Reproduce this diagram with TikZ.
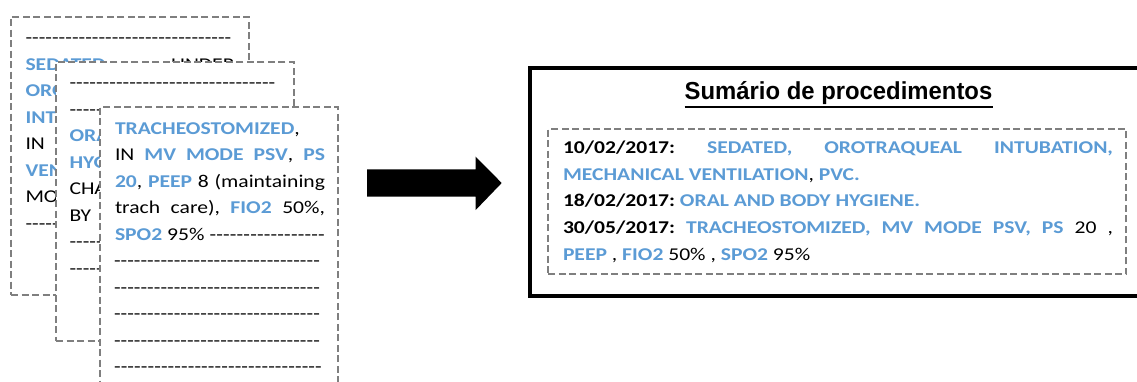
\documentclass[tikz,border=0pt]{standalone}
\usepackage{fontspec}
\setmainfont{Carlito}[FakeStretch=1.2]
\newfontfamily\headfont{Liberation Sans}[FakeStretch=0.97]
\usetikzlibrary{calc}
\frenchspacing

\definecolor{procblue}{RGB}{91,155,213}
\definecolor{pagegray}{RGB}{127,127,127}

% blue bold keyword, bold date
\newcommand\kw[1]{\textcolor{procblue}{\bfseries #1}}
\newcommand\dt[1]{\textbf{#1}}
% justified line of a given width
\newcommand\jline[2]{\makebox[#1][s]{#2}}
% a run of hyphens filling a given width
\newcommand\hyrun[1]{\hbox to #1{\xleaders\hbox{-}\hfill}}

\tikzset{
  sheet/.style={draw=pagegray, line width=2pt, dash pattern=on 7pt off 3.5pt,
    fill=white, inner sep=0pt, outer sep=0pt, anchor=north west},
  txt/.style={anchor=base west, inner sep=0pt, outer sep=0pt,
    font=\fontsize{18}{26.5}\selectfont},
}

\begin{document}
\begin{tikzpicture}[x=1pt,y=-1pt]
\useasboundingbox (0,0) rectangle (1137,381);

% ---- first note sheet
\node[sheet, minimum width=237.5pt, minimum height=278.5pt] (s1) at (11,16.7) {};
\node[txt] (s1a) at (25.5,43.5) {\hyrun{206pt}};
\node[txt] (s1b) at (25.5,70)   {\jline{209pt}{\kw{SEDATED,} UNDER}};
\node[txt] (s1c) at (25.5,96.5) {\kw{OROTRAQUEAL}};
\node[txt] (s1d) at (25.5,123)  {\kw{INTUBATION,}};
\node[txt] (s1e) at (25.5,149.5){IN};
\node[txt] (s1f) at (25.5,176)  {\kw{VENTILATION,}};
\node[txt] (s1g) at (25.5,202.5){MODE};
\node[txt] (s1h) at (25.5,229)  {\hyrun{206pt}};

% ---- second note sheet
\node[sheet, minimum width=238pt, minimum height=278.4pt] (s2) at (56,62.3) {};
\node[txt] (s2a) at (69.5,88.5) {\hyrun{206pt}};
\node[txt] (s2b) at (69.5,115)  {\hyrun{206pt}};
\node[txt] (s2c) at (69.5,141.5){\kw{ORAL}};
\node[txt] (s2d) at (69.5,168)  {\kw{HYGIENE}};
\node[txt] (s2e) at (69.5,194.5){CHANGE};
\node[txt] (s2f) at (69.5,221)  {BY};
\node[txt] (s2g) at (69.5,247.5){\hyrun{206pt}};
\node[txt] (s2h) at (69.5,274)  {\hyrun{206pt}};

% ---- third note sheet
\node[sheet, minimum width=238.3pt, minimum height=300pt] (s3) at (100,107.3) {};
\node[txt] (s3a) at (115,134)   {\kw{TRACHEOSTOMIZED},};
\node[txt] (s3b) at (115,160.5) {\jline{210pt}{IN \kw{MV MODE PSV}, \kw{PS}}};
\node[txt] (s3c) at (115,187)   {\jline{210pt}{\kw{20}, \kw{PEEP} 8 (maintaining}};
\node[txt] (s3d) at (115,213.5) {\jline{210pt}{trach care), \kw{FIO2} 50\%,}};
\node[txt] (s3e) at (115,240)   {\hbox to 210pt{\kw{SPO2} 95\% \xleaders\hbox{-}\hfill}};
\node[txt] (s3f) at (114,266.5) {\hyrun{206pt}};
\node[txt] (s3g) at (114,293)   {\hyrun{206pt}};
\node[txt] (s3h) at (114,319.5) {\hyrun{206pt}};
\node[txt] (s3i) at (114,346)   {\hyrun{206pt}};
\node[txt] (s3j) at (114,372.5) {\hyrun{208pt}};

% ---- block arrow
\coordinate (ar0) at (367,169.3);
\fill (ar0) -- (475.7,169.3) -- (475.7,156.7) -- (501.7,183) -- (475.7,210)
  -- (475.7,196.7) -- (367,196.7) -- cycle;

% ---- summary panel
\node[draw=black, line width=4pt, inner sep=0pt, outer sep=0pt, anchor=north west,
  minimum width=620pt, minimum height=227.7pt] (sum) at (530,68.3) {};
\node[anchor=base, inner sep=0pt] (title) at (838.5,99.3)
  {\headfont\fontsize{24.6}{28}\selectfont\bfseries Sumário de procedimentos};
\draw[line width=2pt] ([yshift=-7.4pt]title.base west) -- ([yshift=-7.4pt]title.base east);

\node[sheet, fill=none, minimum width=578pt, minimum height=145.3pt] (list) at (548.3,129) {};
\node[txt] (l1) at (563,153.3) {\jline{550pt}{\dt{10/02/2017:} \kw{SEDATED,} \kw{OROTRAQUEAL} \kw{INTUBATION,}}};
\node[txt] (l2) at (563,180)   {\kw{MECHANICAL VENTILATION}, \kw{PVC.}};
\node[txt] (l3) at (563,206.7) {\dt{18/02/2017:} \kw{ORAL AND BODY HYGIENE.}};
\node[txt] (l4) at (563,233.3) {\jline{550pt}{\dt{30/05/2017:} \kw{TRACHEOSTOMIZED, MV MODE PSV, PS} 20 ,}};
\node[txt] (l5) at (563,260)   {\kw{PEEP} , \kw{FIO2} 50\% , \kw{SPO2} 95\%};
\end{tikzpicture}
\end{document}
